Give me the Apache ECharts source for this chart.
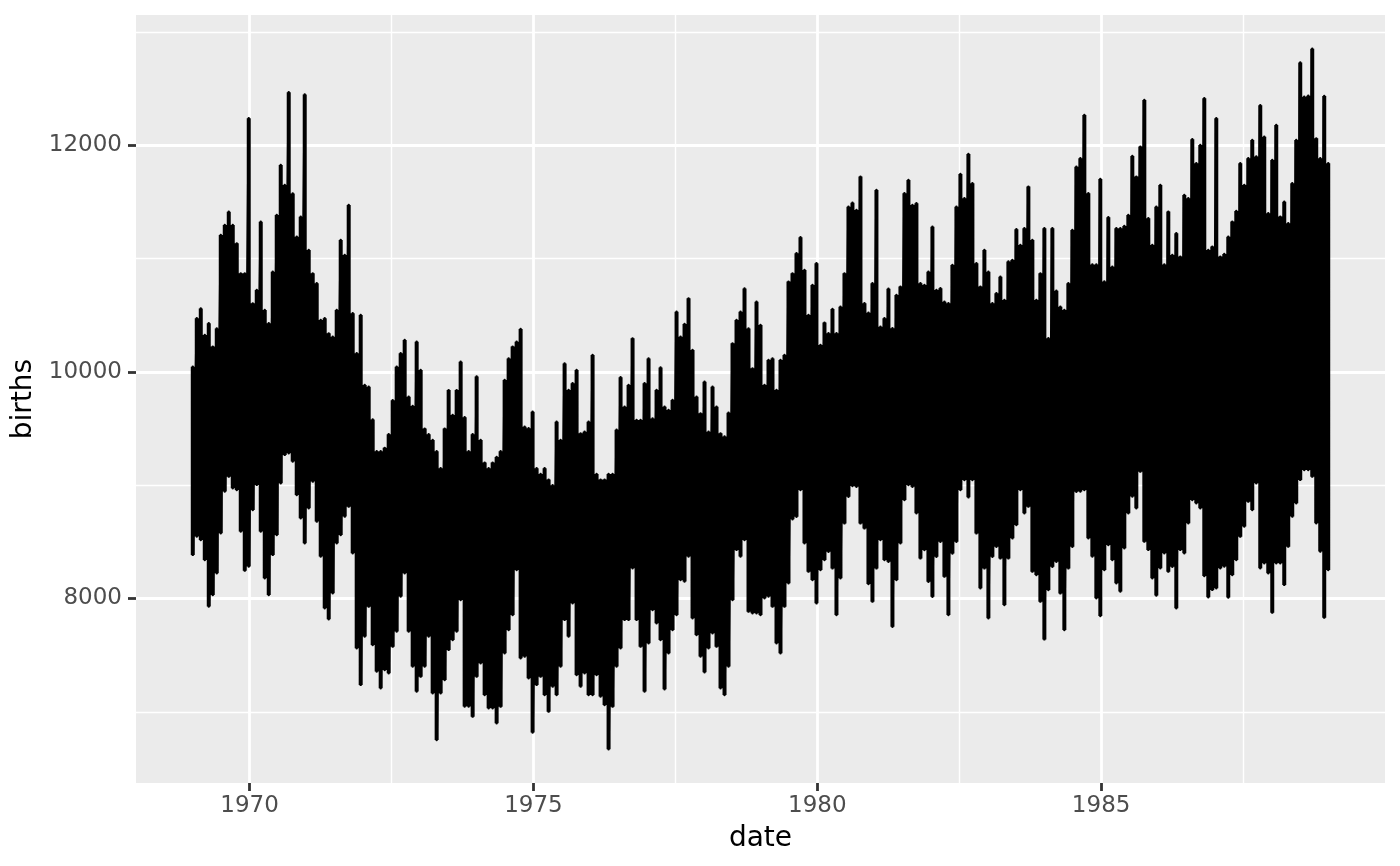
<!DOCTYPE html>
<html><head><meta charset="utf-8">
<style>html,body{margin:0;padding:0;background:#fff}#c{width:1400px;height:866px}</style>
<script src="https://cdn.jsdelivr.net/npm/echarts@6/dist/echarts.min.js"></script>
</head><body><div id="c"></div>
<script>
const firstYear = 1969.0;
const stepYears = 0.070423;
const xMajor = [1970, 1975, 1980, 1985];
const xMinor = [1972.5, 1977.5, 1982.5, 1987.5];
const yMajor = [8000, 10000, 12000];
const yMinor = [7000, 9000, 11000, 13000];
const upperBirths = [
10047,10474,10560,10327,10430,10224,10385,11210,11298,11415,
11298,11136,10871,10871,12240,10606,10724,11327,10547,10430,
10886,11386,11828,11651,12470,11577,11195,11371,12450,11077,
10871,10783,10459,10474,10341,10312,10547,11165,11033,11474,
10518,10165,10503,9885,9870,9580,9300,9300,9330,9450,
9750,10047,10165,10282,9782,9700,10268,10018,9500,9450,
9400,9300,9150,9500,9840,9620,9840,10090,9600,9300,
9450,9960,9400,9200,9150,9200,9250,9300,9929,10120,
10224,10268,10380,9517,9503,9650,9150,9100,9150,9050,
9000,9560,9400,10076,9841,9900,10018,9458,9473,9561,
10150,9100,9050,9050,9100,9100,9490,9953,9694,9885,
10297,9576,9576,9900,10120,9590,9841,10040,9694,9665,
9753,10532,10312,10424,10650,10194,9782,9635,9914,9473,
9870,9694,9458,9430,9640,10253,10459,10532,10738,10385,
10032,10621,10415,9885,10106,10120,9841,10106,10150,10798,
10871,11048,11189,10901,10504,10769,10960,10239,10436,10342,
10557,10342,10577,10871,11460,11495,11430,11725,10607,10524,
10783,11607,10400,10474,10736,10386,10680,10754,11578,11696,
11475,11490,10783,10769,10886,11283,10724,10739,10621,10607,
10945,11460,11748,11534,11925,11666,10960,10754,11078,10886,
10607,10695,10842,10636,10975,10989,11260,11122,11269,11637,
11166,10636,10871,11269,10298,11269,10718,10577,10548,10783,
11254,11813,11887,12270,11578,10950,10950,11705,10800,11366,
10930,11269,11269,11290,11387,11908,11725,11990,12402,11357,
11122,11460,11651,10950,11416,11033,11225,11019,11563,11534,
12055,11843,12005,12417,11078,11107,12240,11019,11042,11195,
11328,11422,11843,11651,11887,12049,11902,12355,12078,11401,
11872,12181,11372,11504,11313,11666,12049,12732,12431,12440,
12855,12063,11887,12437,11843
];
const lowerBirths = [
8385,8547,8517,8340,7929,8031,8223,8576,8944,9076,
8973,8958,8591,8246,8282,8782,9003,8591,8179,8031,
8385,8561,9017,9268,9282,9209,8914,8708,8488,8797,
9032,8679,8370,7914,7817,8046,8488,8561,8723,8811,
8399,7561,7237,7664,7928,7590,7355,7207,7369,7340,
7575,7708,8017,8223,7708,7399,7178,7310,7399,7664,
7163,6751,7163,7281,7546,7634,7708,7987,7046,7046,
6957,7310,7428,7148,7031,7031,6898,7045,7516,7722,
7855,8252,7472,7487,7296,6816,7237,7310,7148,7001,
7222,7148,7399,7811,7664,7958,7325,7222,7340,7148,
7148,7325,7134,7060,6669,7045,7399,7560,7811,7811,
8267,7811,7575,7178,7605,7899,7781,7634,7199,7516,
7722,7855,8164,8150,8370,7825,7678,7487,7349,7560,
7693,7575,7207,7148,7399,7987,8429,8370,8517,7884,
7870,7870,7855,8002,8017,7928,7605,7516,7928,8134,
8700,8722,8958,8487,8237,8163,7957,8251,8340,8413,
8266,7854,8178,8663,8899,8993,8987,8663,8619,8128,
7972,8266,8516,8340,8325,7751,8163,8487,8869,9002,
8987,8752,8354,8428,8148,8016,8369,8501,8193,7854,
8398,8501,8958,9046,8893,9046,8575,8090,8266,7825,
8369,8457,8354,7942,8354,8531,8649,8958,8752,8811,
8237,8207,7972,7639,8075,8281,8325,8045,7722,8266,
8457,8943,8944,8958,8532,8370,8002,7846,8252,8473,
8340,8134,8061,8443,8752,8900,8797,9120,8502,8429,
8178,8026,8267,8399,8237,8281,7914,8429,8399,8664,
8870,8841,8797,8199,8011,8076,8090,8267,8282,8008,
8208,8340,8546,8635,8855,8782,9017,8267,8311,8223,
7875,8311,8311,8120,8458,8723,8841,9047,9135,9135,
9076,8664,8414,7831,8252
];
const births = [];
const ranges = [];
upperBirths.forEach((hi, i) => {
  const t = firstYear + i * stepYears;
  births.push([t, hi], [t, lowerBirths[i]]);
  ranges.push([t, hi, lowerBirths[i]]);
});
const grid = (list, key, width) => list.map(v => ({[key]: v, lineStyle: {color: '#fff', width: width, type: 'solid'}}));
const label = {fontFamily: 'DejaVu Sans', fontSize: 23, color: '#4D4D4D', formatter: v => String(v)};
const tick = {show: true, length: 8, lineStyle: {color: '#333333', width: 2.8}};
const chart = echarts.init(document.getElementById('c'), null, {renderer: 'canvas'});
chart.setOption({
  animation: false,
  backgroundColor: '#fff',
  grid: {left: 136, right: 15, top: 15, bottom: 83, outerBoundsMode: 'none', containLabel: false, show: true, backgroundColor: '#EBEBEB', borderWidth: 0},
  xAxis: {type: 'value', min: 1968, max: 1990, name: 'date', nameLocation: 'middle', nameGap: 42,
    nameTextStyle: {fontFamily: 'DejaVu Sans', fontSize: 28, color: '#000'},
    axisLine: {show: false}, splitLine: {show: false}, minorSplitLine: {show: false},
    axisTick: Object.assign({customValues: xMajor}, tick),
    axisLabel: Object.assign({customValues: xMajor, margin: 12}, label)},
  yAxis: {type: 'value', min: 6371, max: 13152, name: 'births', nameLocation: 'middle', nameGap: 85,
    nameTextStyle: {fontFamily: 'DejaVu Sans', fontSize: 28, color: '#000'},
    axisLine: {show: false}, splitLine: {show: false},
    axisTick: Object.assign({customValues: yMajor}, tick),
    axisLabel: Object.assign({customValues: yMajor, margin: 14, padding: [6, 0, 0, 0]}, label)},
  series: [
    {type: 'line', data: [], z: 1, silent: true,
     markLine: {z: 1, silent: true, symbol: 'none', label: {show: false}, animation: false,
       data: [...grid(yMinor, 'yAxis', 1.4), ...grid(xMinor, 'xAxis', 1.4),
              ...grid(yMajor, 'yAxis', 2.8), ...grid(xMajor, 'xAxis', 2.8)]}},
    {type: 'custom', data: ranges, z: 4, silent: true, encode: {x: 0, y: [1, 2]},
     renderItem: (params, api) => {
       if (params.dataIndex !== 0) return null;
       const half = stepYears / 2;
       const top = [], bottom = [];
       ranges.forEach(r => {
         top.push(api.coord([r[0] - half, r[1]]), api.coord([r[0] + half, r[1]]));
         bottom.unshift(api.coord([r[0] - half, r[2]]));
         bottom.unshift(api.coord([r[0] + half, r[2]]));
       });
       return {type: 'polygon', shape: {points: top.concat(bottom)}, style: {fill: '#000'}};
     }},
    {type: 'line', data: births, z: 5, silent: true, showSymbol: false, symbol: 'none',
     lineStyle: {color: '#000', width: 2.4, join: 'round', cap: 'round'}}
  ]
});
</script></body></html>
